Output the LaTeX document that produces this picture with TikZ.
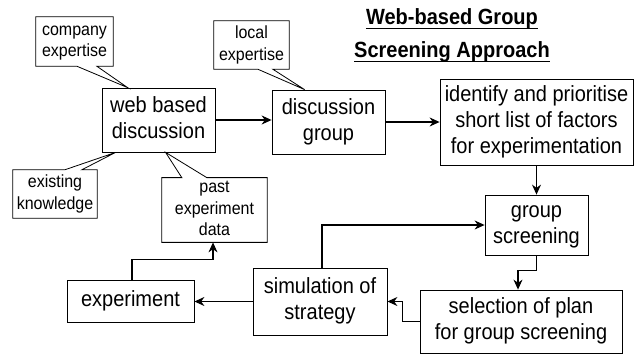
\documentclass[tikz,border=0pt]{standalone}
\usepackage{fontspec}
\usepackage{graphicx}
\setmainfont{Liberation Sans}
\usetikzlibrary{arrows.meta,calc}
\newcommand\vst[1]{\scalebox{1}[1.1]{\begin{tabular}{@{}c@{}}#1\end{tabular}}}
\begin{document}
\begin{tikzpicture}[x=1pt,y=-1pt,
  box/.style={draw,line width=0.8pt,align=center,inner sep=0pt,font=\fontsize{20}{23.5}\selectfont},
  cal/.style={align=center,inner sep=0pt,font=\fontsize{16}{19.5}\selectfont},
  calline/.style={line width=0.8pt,line join=miter},
  arr/.style={line width=1.2pt,-{Stealth[length=10pt,width=9pt]}},
  ttl/.style={inner sep=0pt,font=\bfseries\fontsize{20}{24}\selectfont}]
\useasboundingbox (0,0) rectangle (636,356);
\fill[white] (0,0) rectangle (636,356);

% title
\node[ttl,anchor=base] (t1) at (452,24) {\scalebox{1}[1.1]{Web-based Group}};
\node[ttl,anchor=base] (t2) at (452,57) {\scalebox{1}[1.1]{Screening Approach}};
\draw[line width=1pt] ([yshift=-4pt]t1.base west) -- ([yshift=-4pt]t1.base east);
\draw[line width=1pt] ([yshift=-4pt]t2.base west) -- ([yshift=-4pt]t2.base east);

% main boxes
\node[box,minimum width=113pt,minimum height=64pt] (web) at (158.5,120) {\vst{web based\\discussion}};
\node[box,minimum width=113pt,minimum height=64pt] (disc) at (328.5,122) {\vst{discussion\\group}};
\node[box,minimum width=193pt,minimum height=86pt] (ident) at (536.5,122) {\vst{identify and prioritise\\short list of factors\\for experimentation}};
\node[box,minimum width=103pt,minimum height=60pt] (gs) at (536.5,225) {\vst{group\\screening}};
\node[box,minimum width=202pt,minimum height=63pt] (sel) at (521,321.5) {\vst{selection of plan\\for group screening}};
\node[box,minimum width=134pt,minimum height=67pt] (sim) at (320,301.5) {\vst{simulation of\\strategy}};
\node[box,minimum width=127pt,minimum height=42pt] (exp) at (130.5,301) {\vst{experiment}};

% callouts
\node[cal,minimum width=77pt,minimum height=49pt] (comp) at (74.5,41.5) {\vst{company\\expertise}};
\node[cal,minimum width=75pt,minimum height=48pt] (loc) at (251.5,45) {\vst{local\\expertise}};
\node[cal,minimum width=84pt,minimum height=48pt] (exk) at (55,194) {\vst{existing\\knowledge}};
\node[cal,minimum width=105pt,minimum height=64pt] (past) at (214.5,210) {\vst{past\\experiment\\data}};

\coordinate (tipc) at ([xshift=26pt]web.north west);
\coordinate (tipl) at ([xshift=33pt]disc.north west);
\coordinate (tipe) at ([xshift=14pt]web.south west);
\coordinate (tipp) at ([xshift=64pt]web.south west);

\draw[calline] (comp.north west) -- (comp.north east) -- (comp.south east)
  -- ([xshift=61pt]comp.south west) -- (tipc) -- ([xshift=41pt]comp.south west) -- (comp.south west) -- cycle;
\draw[calline] (loc.north west) -- (loc.north east) -- (loc.south east)
  -- ([xshift=59pt]loc.south west) -- (tipl) -- ([xshift=44pt]loc.south west) -- (loc.south west) -- cycle;
\draw[calline] (exk.south west) -- (exk.south east) -- (exk.north east)
  -- ([xshift=69pt]exk.north west) -- (tipe) -- ([xshift=52pt]exk.north west) -- (exk.north west) -- cycle;
\draw[calline] (past.south west) -- (past.south east) -- (past.north east)
  -- ([xshift=45pt]past.north west) -- (tipp) -- ([xshift=20pt]past.north west) -- (past.north west) -- cycle;

% connectors
\draw[arr] (web.east) -- (web.east -| disc.west);
\draw[arr] (disc.east) -- (disc.east -| ident.west);
\draw[arr] (ident.south) -- (gs.north);
\draw[arr] (gs.south) -- ++(0,15) -| ([xshift=-3pt]sel.north);
\draw[arr] (sel.west) -- ++(-17,0) |- (sim.east);
\draw[arr] ([xshift=2pt]sim.north) |- (gs.west);
\draw[arr] (sim.west) -- (sim.west -| exp.east);
\draw[arr] ([xshift=1.5pt]exp.north) -- ++(0,-20) -| ([xshift=-1.5pt]past.south);
\end{tikzpicture}
\end{document}
